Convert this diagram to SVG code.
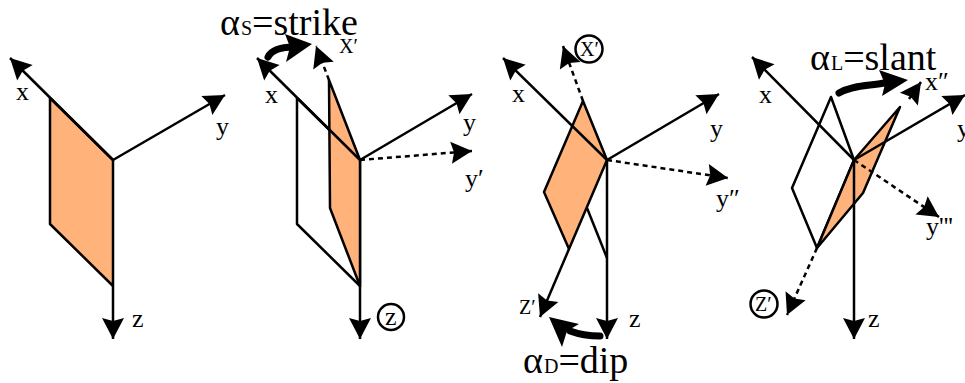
<svg xmlns="http://www.w3.org/2000/svg" width="965" height="383" viewBox="0 0 965 383">
<style>
text{font-family:"Liberation Serif","Times New Roman",serif;fill:#000}
.l{font-size:26px}
.s{font-size:20px}
.b{font-size:38px}
.sub{font-size:20px}
.a{fill:none;stroke:#000;stroke-width:2.5;marker-end:url(#h)}
.d{fill:none;stroke:#000;stroke-width:2.5;stroke-dasharray:5 4;marker-end:url(#h)}
.p{fill:#ffb27a;stroke:#000;stroke-width:2.5;stroke-linejoin:round}
.w{fill:none;stroke:#000;stroke-width:2.5;stroke-linejoin:round}
.c{fill:#fff;stroke:#000;stroke-width:2.5}
.t{fill:none;stroke:#000;stroke-width:7;stroke-linecap:round}
</style>
<defs>
<marker id="h" markerUnits="userSpaceOnUse" markerWidth="26" markerHeight="26" viewBox="0 0 26 26" refX="24" refY="13" orient="auto"><path d="M3,2 L24,13 L3,24 L6,13 Z" fill="#000"/></marker>
</defs>
<g id="panel-1">
<polygon class="p" points="50,98 113,160 113,286 50,224"/>
</g>
<g id="panel-2-planes">
<polygon class="w" points="297,98 360,160 360,286 297,224"/>
<polygon class="p" points="329,80 360,160 360,286 330,208"/>
</g>
<g id="panel-3-planes">
<polyline class="w" points="587,208 607,258"/>
<polygon class="p" points="583,101 607,160 569,249 544,192"/>
</g>
<g id="panel-4-planes">
<polygon class="w" points="831,97 854,160 817,248 792,188"/>
<polygon class="p" points="900,107 863,193 817,248 854,160"/>
</g>
<g id="connectors">
<path class="a" d="M113,160 L10,58"/>
<path class="a" d="M113,160 L225,95"/>
<path class="a" d="M113,286 L113,339"/>
<path class="a" d="M360,160 L257,58"/>
<path class="a" d="M360,160 L472,94"/>
<path class="a" d="M360,286 L360,339"/>
<path class="d" d="M329,80 L316,46"/>
<path class="d" d="M360,160 L472,151"/>
<path class="a" d="M607,160 L503,58"/>
<path class="a" d="M607,160 L719,94"/>
<path class="a" d="M607,160 L607,339"/>
<path class="a" d="M569,249 L540,317"/>
<path class="d" d="M583,101 L563,46"/>
<path class="d" d="M607,160 L728,178"/>
<path class="a" d="M854,160 L752,57"/>
<path class="a" d="M854,160 L965,95"/>
<path class="a" d="M854,160 L854,339"/>
<path class="d" d="M854,160 L939,217"/>
<path class="d" d="M817,248 L787,315"/>
<path class="a" d="M909,99 L921,82"/>
</g>
<g id="rotation-arrows">
<path class="t" d="M268,57 C272,49 283,47 294,47"/>
<polygon points="312,44 285,34 290,47 286,62"/>
<path class="t" d="M839,93 C853,85 870,86 884,83"/>
<polygon points="908,80 879,70 885,84 882,96"/>
<path class="t" d="M600,336 C588,336 578,334 570,331"/>
<polygon points="549,317 562,347 567,331 579,324"/>
</g>
<g id="circles">
<circle class="c" cx="391" cy="317" r="13"/>
<circle class="c" cx="589" cy="49" r="13.500"/>
<circle class="c" cx="764" cy="304" r="13.500"/>
</g>
<g id="labels">
<text class="l" x="16" y="100">x</text>
<text class="l" x="216" y="135">y</text>
<text class="l" x="132" y="327">z</text>
<text class="b" x="220" y="35">α<tspan class="sub" dx="1">S</tspan>=strike</text>
<text class="s" x="339" y="53">X′</text>
<text class="l" x="265" y="103">x</text>
<text class="l" x="463" y="131">y</text>
<text class="l" x="465" y="187">y′</text>
<text class="l" x="385" y="325">z</text>
<text class="s" x="580" y="56">X′</text>
<text class="l" x="512" y="102">x</text>
<text class="l" x="710" y="137">y</text>
<text class="l" x="716" y="207">y″</text>
<text class="s" font-size="19" x="519" y="314">Z′</text>
<text class="l" x="629" y="327">z</text>
<text class="b" x="523" y="373">α<tspan class="sub" dx="1">D</tspan>=dip</text>
<text class="b" x="810" y="70">α<tspan class="sub" dx="1">L</tspan>=slant</text>
<text class="l" x="759" y="103">x</text>
<text class="l" x="925" y="90">x″</text>
<text class="l" x="957" y="137">y</text>
<text class="l" x="926" y="235">y'''</text>
<text class="s" x="755" y="311">Z′</text>
<text class="l" x="868" y="327">z</text>
</g>
</svg>
